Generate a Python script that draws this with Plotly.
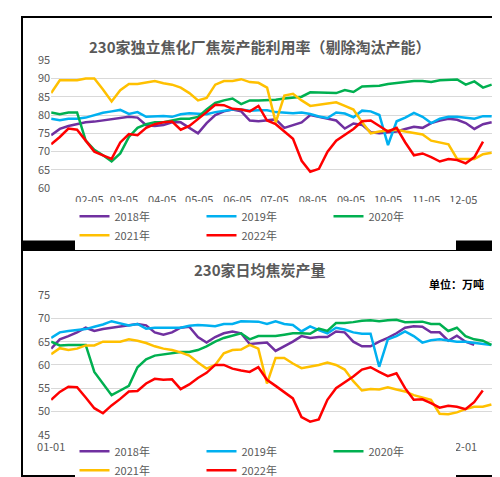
import pandas as pd
import plotly.graph_objects as go

years = ["2018年", "2019年", "2020年", "2021年", "2022年"]
colors = ["#7030a0", "#00b0f0", "#00b050", "#ffc000", "#ff0000"]

# 230家独立焦化厂焦炭产能利用率 (weekly, starting 01-05)
util = {
    "2018年": [74.5, 76.2, 77, 77.5, 78, 78.2, 78.5, 78.8, 79, 79.5, 79.3, 77.2, 77, 77.3, 78, 78,
               76.5, 75, 77.8, 80, 81, 81.5, 81, 78.5, 78.3, 78.5, 78.8, 76.5, 77.3, 78, 80, 79.5,
               79, 78.5, 76.3, 77.7, 77.3, 75.3, 75, 75.2, 75.5, 76.2, 76.8, 76.5, 77.8, 78.5, 79,
               78.7, 77.8, 76.2, 77.5, 78],
    "2019年": [79, 78.6, 79, 79, 79.3, 80, 80.6, 81, 81.4, 80.3, 80.8, 79.5, 79.7, 79.7, 79.5, 80.2,
               80.5, 80.4, 80.2, 80.8, 81.2, 81.5, 81.5, 81.2, 81.3, 81.3, 80.8, 80.6, 80.5, 80.7,
               80.3, 79.6, 79.2, 80.7, 80.4, 79.4, 81.2, 81, 80, 71.8, 78.3, 79.3, 80.6, 79.5, 77.8,
               79, 79.5, 79.5, 79.2, 79, 79.7, 79.7],
    "2020年": [80.7, 80.2, 80.7, 80.7, 73, 70.5, 69, 67.3, 69.5, 74, 76.5, 77.5, 78, 78, 78.5, 79,
               79, 79.5, 81.5, 83.3, 84, 84.5, 83, 84, 84, 84, 84.2, 84.5, 84.7, 85, 86.2, 86.2,
               86.2, 86, 86.8, 86.3, 87.8, 87.8, 88, 88.5, 88.8, 89, 89.3, 89.3, 89, 89.5, 89.7,
               89.7, 88.3, 89.2, 87.5, 88.3],
    "2021年": [86, 89.5, 89.5, 89.5, 90, 90, 87, 83.7, 86.8, 88.5, 88.5, 89, 89.3, 88.7, 88.3, 87.5,
               86, 84, 84.7, 88.3, 89.3, 89.3, 89.8, 89, 88.8, 87.5, 78, 85.3, 85.8, 84, 82.5, 82.8,
               83.2, 83.5, 82.5, 81.5, 78, 75, 75.5, 75.7, 76, 75.5, 75, 74.7, 73, 72.5, 72, 68, 68,
               68, 69.3, 69.7],
    "2022年": [72, 74, 76.3, 76, 73, 70, 69, 68, 72.5, 74.8, 74.5, 76.5, 77.5, 78, 78.2, 76, 77,
               78.8, 80.8, 82.8, 82.7, 81.7, 81.5, 81, 82.5, 78.5, 77.5, 75.5, 73.5, 67.5, 64.5,
               65.3, 70, 73, 74.5, 76.2, 78.3, 78.5, 77, 75.5, 76.5, 72.5, 69, 69.5, 68.5, 67.3, 68,
               67.7, 66.8, 68.5, 72.7],
}

# 230家日均焦炭产量 (万吨, weekly, starting 01-01)
output = {
    "2018年": [63.5, 65.5, 66.2, 67, 68, 67.3, 67.7, 68, 68.3, 68.6, 68.8, 68.5, 67, 66.5, 67, 68,
               68.2, 66, 64.8, 66, 66.8, 67.2, 66.8, 64.5, 64.6, 64.8, 63, 64, 65, 66.2, 65.8, 66,
               66, 67.2, 67, 65, 64, 64, 65, 65.8, 66.8, 68, 68.3, 68.2, 67, 67, 65.2, 66.3, 65,
               64.3],
    "2019年": [65.8, 67, 67.3, 67.5, 67.7, 68.2, 68.7, 69.4, 69, 68.5, 68.8, 67.8, 68, 68, 68, 68,
               68.4, 68.6, 68.5, 68.3, 68.8, 68.8, 69.4, 69.3, 69.3, 68.8, 69.4, 68.8, 68.6, 67.2,
               68.3, 67.5, 66.8, 68, 67.6, 67, 66.7, 66.7, 59.6, 65.5, 66.2, 67.2, 66.2, 64.8, 65.3,
               65.5, 65.3, 65, 65, 64.8, 64.5, 64.3],
    "2020年": [65, 64.2, 64.3, 64.3, 64.3, 58.5, 56, 53.5, 54.5, 55.5, 59.5, 61.2, 62, 62.3, 62.6,
               62.8, 62.8, 63.2, 64, 65, 65.8, 66.3, 66.8, 65.5, 66.2, 66.2, 66.2, 66.5, 66.8, 66.8,
               66.7, 67.8, 67.3, 69, 69, 69.2, 69.5, 69.6, 69.4, 69.6, 69.7, 69.2, 69.3, 69.3, 68.8,
               68.8, 67.3, 68, 66.2, 65.5, 65.2, 64.3],
    "2021年": [62.3, 63.6, 63.2, 63.5, 64.2, 64.2, 65, 65, 65, 65.5, 65.2, 64.7, 64, 63.5, 63.2,
               62.7, 62, 60.5, 59.2, 60, 62.5, 63.2, 63.3, 64.3, 63.5, 56, 61.5, 61.5, 60.3, 59.3,
               59.6, 60, 60.5, 60, 59, 56.5, 54.5, 54.8, 54.7, 55.2, 54.7, 54.3, 53.5, 53, 52.5,
               49.5, 49.4, 49.8, 50.5, 51, 51, 51.5],
    "2022年": [52.5, 54.2, 55.3, 55.2, 53, 50.7, 49.6, 51.3, 52.7, 54.3, 54.4, 56, 57, 56.8, 56.9,
               54.8, 55.8, 57.2, 58.3, 60, 60, 59.2, 58.8, 58.5, 59.5, 56.8, 55.5, 54.2, 52.8, 48.8,
               47.8, 48.3, 52.5, 55, 56.2, 57.5, 59, 59.5, 58.5, 57.6, 58.2, 55, 52.5, 52.6, 51.8,
               50.8, 51.2, 51, 50.5, 52, 54.5],
}

top_dates = pd.date_range("2022-01-05", periods=52, freq="7D")
bot_dates = pd.date_range("2022-01-01", periods=52, freq="7D")
top_ticks = pd.date_range("2022-01-05", periods=12, freq="MS") + pd.Timedelta(days=4)
bot_ticks = pd.date_range("2022-01-01", periods=12, freq="MS")

fig = go.Figure()
for yr, c in zip(years, colors):
    v = util[yr]
    fig.add_trace(go.Scatter(x=top_dates[:len(v)], y=v, name=yr, mode="lines",
                             line=dict(color=c, width=2.5), xaxis="x", yaxis="y", legend="legend"))
for yr, c in zip(years, colors):
    v = output[yr]
    fig.add_trace(go.Scatter(x=bot_dates[:len(v)], y=v, name=yr, mode="lines",
                             line=dict(color=c, width=2.5), xaxis="x2", yaxis="y2", legend="legend2"))

gray = "#595959"
axis_common = dict(showgrid=False, showline=False, ticks="", tickformat="%m-%d",
                   tickfont=dict(size=11, color=gray), ticklabelstandoff=4)
yaxis_common = dict(showgrid=True, gridcolor="#d9d9d9", zeroline=False, showline=False,
                    tickfont=dict(size=11, color=gray), dtick=5)
legend_common = dict(orientation="h", x=0.5, xanchor="center", yanchor="middle",
                     font=dict(size=11, color=gray), entrywidth=82, itemwidth=30)

fig.update_layout(
    width=500, height=477,
    margin=dict(l=0, r=0, t=0, b=0),
    paper_bgcolor="white", plot_bgcolor="white",
    font=dict(family="Noto Sans CJK SC", color=gray),
    xaxis=dict(axis_common, domain=[0.06, 0.974], anchor="y", tickvals=top_ticks,
               range=["2022-01-05", "2022-12-31"]),
    yaxis=dict(yaxis_common, domain=[0.627, 0.906], range=[60, 95], anchor="x"),
    xaxis2=dict(axis_common, domain=[0.06, 0.976], anchor="y2", tickvals=bot_ticks,
                range=["2022-01-01", "2022-12-28"]),
    yaxis2=dict(yaxis_common, domain=[0.09, 0.394], range=[45, 75], anchor="x2"),
    legend=dict(legend_common, y=0.545),
    legend2=dict(legend_common, y=0.033),
    shapes=[
        dict(type="rect", xref="paper", yref="paper", x0=0, x1=1, y0=0.49, y1=0.513,
             fillcolor="black", line=dict(width=0)),
        dict(type="rect", xref="paper", yref="paper", x0=0, x1=1, y0=0, y1=1,
             fillcolor="rgba(0,0,0,0)", line=dict(color="black", width=2)),
    ],
    annotations=[
        dict(text="<b>230家独立焦化厂焦炭产能利用率（剔除淘汰产能）</b>", xref="paper", yref="paper",
             x=0.49, y=0.962, showarrow=False, font=dict(size=15, color=gray)),
        dict(text="<b>230家日均焦炭产量</b>", xref="paper", yref="paper",
             x=0.49, y=0.45, showarrow=False, font=dict(size=15, color=gray)),
        dict(text="<b>单位：万吨</b>", xref="paper", yref="paper",
             x=0.955, y=0.418, xanchor="right", showarrow=False,
             font=dict(size=11, color="black")),
    ],
)

fig.write_html("out.html")
